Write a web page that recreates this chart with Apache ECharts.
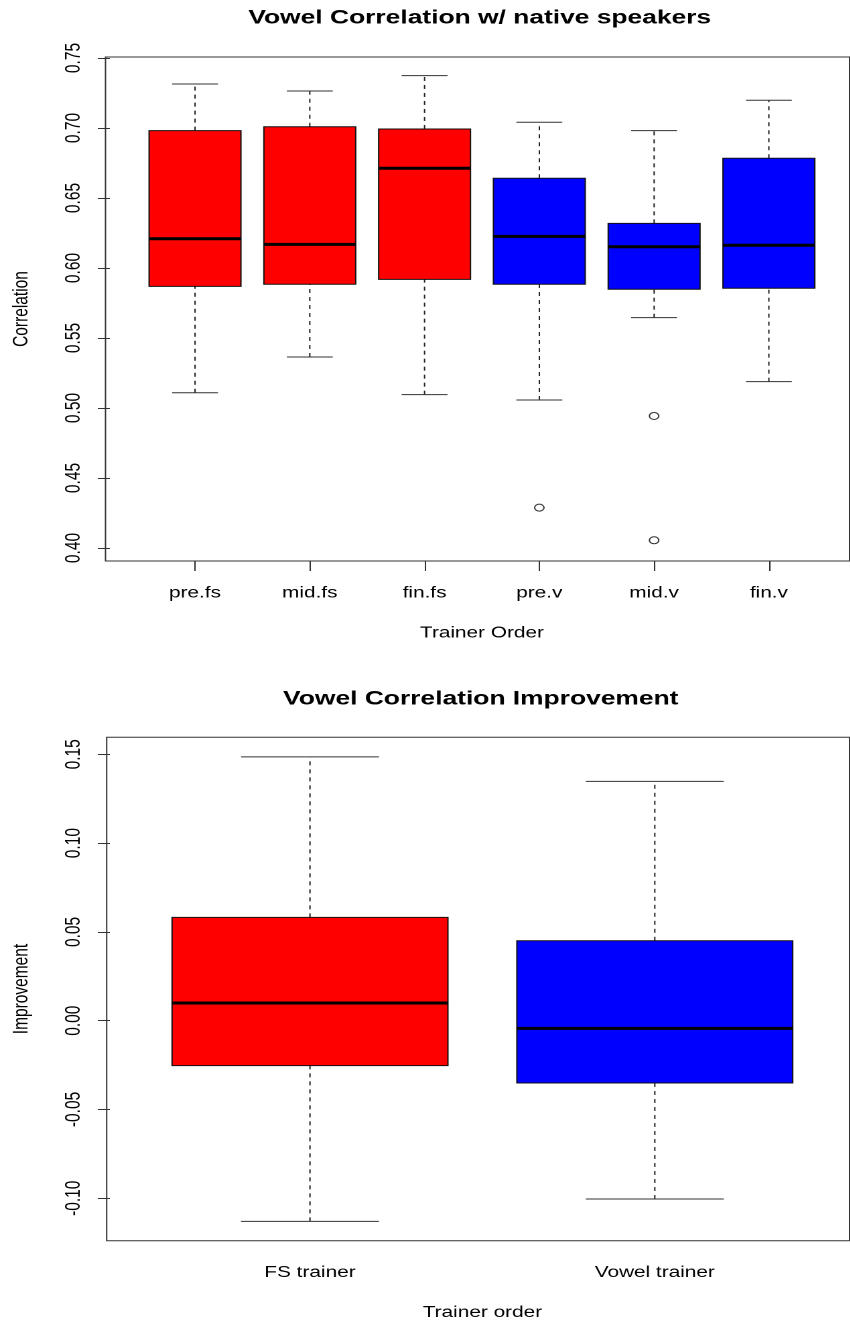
<!DOCTYPE html>
<html><head><meta charset="utf-8">
<script src="https://cdn.jsdelivr.net/npm/echarts@6/dist/echarts.min.js"></script>
<style>
html,body{margin:0;padding:0;background:#fff;overflow:hidden;width:850px;height:1322px}
#c{position:absolute;left:0;top:0;height:1322px;transform-origin:0 0;}
</style></head><body><div id="c"></div>
<script>
// ---- data ----
const topCategories = ['pre.fs', 'mid.fs', 'fin.fs', 'pre.v', 'mid.v', 'fin.v'];
const topLower  = [0.5109, 0.5364, 0.5095, 0.5057, 0.5645, 0.5188];
const topQ1     = [0.5869, 0.5884, 0.5919, 0.5884, 0.5848, 0.5855];
const topMedian = [0.6209, 0.6169, 0.6712, 0.6226, 0.6152, 0.6162];
const topQ3     = [0.6981, 0.7009, 0.6993, 0.6641, 0.6319, 0.6784];
const topUpper  = [0.7314, 0.7264, 0.7374, 0.7041, 0.6981, 0.7198];
const topOutliers = [['pre.v', 0.4288], ['mid.v', 0.4943], ['mid.v', 0.4055]];
const topYTicks = [0.40, 0.45, 0.50, 0.55, 0.60, 0.65, 0.70, 0.75];

const botCategories = ['FS trainer', 'Vowel trainer'];
const botLower  = [-0.1130, -0.1004];
const botQ1     = [-0.0253, -0.0351];
const botMedian = [0.0100, -0.0043];
const botQ3     = [0.0582, 0.0450];
const botUpper  = [0.1486, 0.1348];
const botYTicks = [-0.10, -0.05, 0.00, 0.05, 0.10, 0.15];

// ---- styles ----
const topColors = ['#FF0000', '#FF0000', '#FF0000', '#0000FF', '#0000FF', '#0000FF'];
const botColors = ['#FF0000', '#0000FF'];
const S = 1.34;                  // horizontal stretch of the reference image
const sx = v => v / S;
const el = document.getElementById('c');
el.style.width = (850 / S) + 'px';
el.style.transform = 'scaleX(' + S + ')';

const FONT = 'Liberation Sans, Arial, Helvetica, sans-serif';
const FS = 15.5;
const TFS = 19.7;

function boxData(lo, q1, med, q3, hi) {
  return lo.map((v, i) => [i, lo[i], q1[i], med[i], q3[i], hi[i]]);
}
function makeRender(colors) {
  return function (params, api) {
    const i = api.value(0);
    const pLo = api.coord([i, api.value(1)]);
    const pQ1 = api.coord([i, api.value(2)]);
    const pMd = api.coord([i, api.value(3)]);
    const pQ3 = api.coord([i, api.value(4)]);
    const pHi = api.coord([i, api.value(5)]);
    const band = api.size([1, 0])[0];
    const bw = band * 0.8, cw = band * 0.4, cx = pMd[0];
    const dash = { stroke: '#222', lineWidth: 1, lineDash: [4, 4] };
    const solid = { stroke: '#333', lineWidth: 1 };
    return {
      type: 'group',
      children: [
        { type: 'line', shape: { x1: cx, y1: pQ3[1], x2: cx, y2: pHi[1] }, style: dash },
        { type: 'line', shape: { x1: cx, y1: pLo[1], x2: cx, y2: pQ1[1] }, style: dash },
        { type: 'line', shape: { x1: cx - cw / 2, y1: pHi[1], x2: cx + cw / 2, y2: pHi[1] }, style: solid },
        { type: 'line', shape: { x1: cx - cw / 2, y1: pLo[1], x2: cx + cw / 2, y2: pLo[1] }, style: solid },
        { type: 'rect', shape: { x: cx - bw / 2, y: pQ3[1], width: bw, height: pQ1[1] - pQ3[1] },
          style: { fill: colors[i], stroke: '#111', lineWidth: 1 } },
        { type: 'line', shape: { x1: cx - bw / 2, y1: pMd[1], x2: cx + bw / 2, y2: pMd[1] },
          style: { stroke: '#000', lineWidth: 3 } }
      ]
    };
  };
}

const labelStyle = { color: '#000', fontSize: FS, fontFamily: FONT };
const nameStyle = { color: '#000', fontSize: FS, fontFamily: FONT };

function frameX(g) { return { gridIndex: g, type: 'value', show: false, min: 0, max: 1 }; }
function frameY(g) { return { gridIndex: g, type: 'value', show: false, min: 0, max: 1 }; }
function dataX(g, cats, name) {
  return {
    gridIndex: g, type: 'category', data: cats,
    axisLine: { show: false },
    axisTick: { show: true, alignWithLabel: true, length: 10, lineStyle: { color: '#333' } },
    axisLabel: Object.assign({ margin: 24 }, labelStyle),
    splitLine: { show: false },
    name: name, nameLocation: 'middle', nameGap: 64, nameTextStyle: nameStyle
  };
}
function dataY(g, min, max, ticks, offset, name) {
  return {
    gridIndex: g, type: 'value', min: min, max: max, offset: offset,
    axisLine: { show: false },
    splitLine: { show: false },
    axisTick: { show: true, length: 9, customValues: ticks, lineStyle: { color: '#333' } },
    axisLabel: Object.assign({ rotate: 90, margin: 19, customValues: ticks,
      formatter: v => Number(v).toFixed(2) }, labelStyle),
    name: name, nameLocation: 'middle', nameRotate: 90, nameGap: 58, nameTextStyle: nameStyle
  };
}

const frameStyle = { show: true, borderColor: '#333', borderWidth: 1, backgroundColor: 'transparent' };

const option = {
  animation: false,
  backgroundColor: '#fff',
  title: [
    { text: 'Vowel Correlation w/ native speakers', left: sx(479.75), textAlign: 'center', top: 8, padding: 0,
      textStyle: { fontSize: TFS, fontWeight: 'bold', color: '#000', fontFamily: FONT } },
    { text: 'Vowel Correlation Improvement', left: sx(480.8), textAlign: 'center', top: 689, padding: 0,
      textStyle: { fontSize: TFS, fontWeight: 'bold', color: '#000', fontFamily: FONT } }
  ],
  grid: [
    Object.assign({ left: sx(105.5), top: 57, width: sx(854 - 105.5), height: 504 }, frameStyle),
    { left: sx(133.25), top: 57, width: sx(693), height: 504, show: false },
    Object.assign({ left: sx(106.7), top: 737.3, width: sx(854.9 - 106.7), height: 503.4 }, frameStyle),
    { left: sx(134.4), top: 737.3, width: sx(692.8), height: 503.4, show: false }
  ],
  xAxis: [
    frameX(0),
    dataX(1, topCategories, 'Trainer Order'),
    frameX(2),
    dataX(3, botCategories, 'Trainer order')
  ],
  yAxis: [
    frameY(0),
    dataY(1, 0.3907, 0.7507, topYTicks, sx(133.25 - 105.5), 'Correlation'),
    frameY(2),
    dataY(3, -0.1239, 0.1596, botYTicks, sx(134.4 - 106.7), 'Improvement')
  ],
  series: [
    { type: 'custom', xAxisIndex: 1, yAxisIndex: 1, renderItem: makeRender(topColors),
      data: boxData(topLower, topQ1, topMedian, topQ3, topUpper), encode: { x: 0, y: [1, 2, 3, 4, 5] } },
    { type: 'scatter', xAxisIndex: 1, yAxisIndex: 1, data: topOutliers,
      symbol: 'circle', symbolSize: 7,
      itemStyle: { color: 'rgba(255,255,255,0)', borderColor: '#000', borderWidth: 1 } },
    { type: 'custom', xAxisIndex: 3, yAxisIndex: 3, renderItem: makeRender(botColors),
      data: boxData(botLower, botQ1, botMedian, botQ3, botUpper), encode: { x: 0, y: [1, 2, 3, 4, 5] } }
  ]
};
const chart = echarts.init(el, null, { devicePixelRatio: 2 });
chart.setOption(option);
</script></body></html>
